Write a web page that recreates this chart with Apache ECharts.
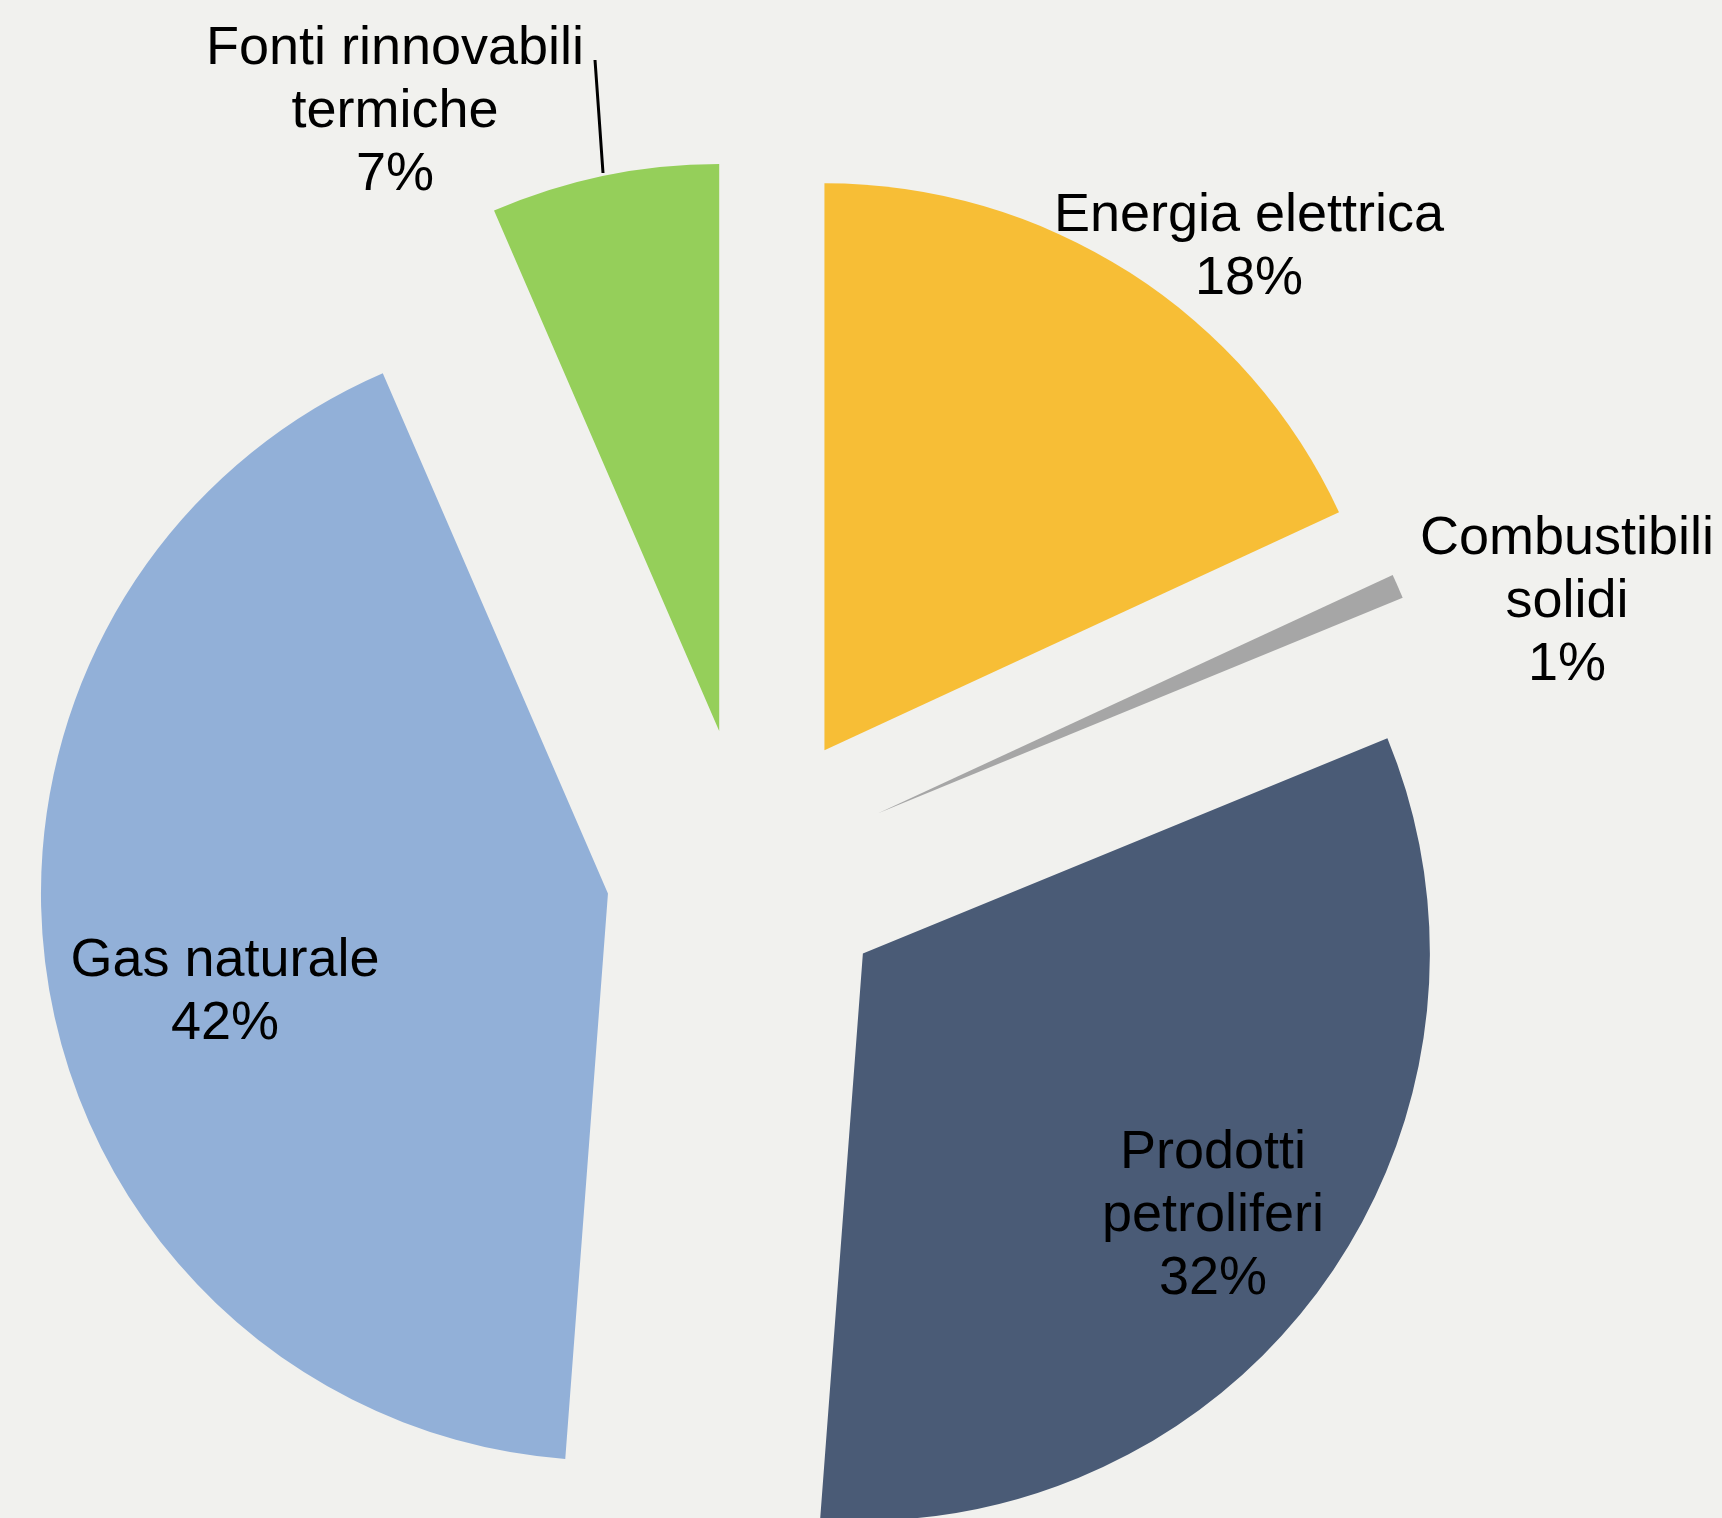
<!DOCTYPE html>
<html>
<head>
<meta charset="utf-8">
<title>Consumi finali per fonte</title>
<script src="https://cdn.jsdelivr.net/npm/echarts@6/dist/echarts.min.js"></script>
<style>
  html, body { margin: 0; padding: 0; background: #f1f1ee; }
  #main { width: 1722px; height: 1518px; }
</style>
</head>
<body>
<div id="main"></div>
<script>
// dati (quota % per fonte), in senso orario dalle ore 12
const categories = ['Energia elettrica', 'Combustibili\nsolidi', 'Prodotti\npetroliferi', 'Gas naturale', 'Fonti rinnovabili\ntermiche'];
const shares = [18.1, 0.7, 32.4, 42.3, 6.5];
const colors = ['#f7be36', '#a6a6a6', '#4a5b76', '#92b0d8', '#95cf5a'];

// posizione delle etichette (centro del blocco di testo), come nel grafico Excel
const labelSpots = [[1249, 248], [1567, 602], [1213, 1216], [225, 993], [395, 112]];

const myChart = echarts.init(document.getElementById('main'));

// fette "esplose"
const sliceData = categories.map((name, i) => ({
  name: name,
  value: shares[i],
  selected: true,
  itemStyle: { color: colors[i] },
  select: { itemStyle: { color: colors[i], borderWidth: 0 } }
}));

// stessa serie, trasparente, solo per le etichette
const labelData = categories.map((name, i) => ({
  name: name,
  value: shares[i],
  itemStyle: { color: 'rgba(0,0,0,0)' },
  label: { position: (i === 1 || i === 4) ? 'outside' : 'inside' },
  labelLine: { show: i === 4 }
}));

const option = {
  backgroundColor: '#f1f1ee',
  animation: false,
  series: [
    {
      type: 'pie',
      center: [748, 870],
      radius: 567,
      startAngle: 90,
      clockwise: true,
      selectedMode: 'multiple',
      selectedOffset: 142,
      emphasis: { disabled: true },
      itemStyle: { borderWidth: 0 },
      label: { show: false },
      labelLine: { show: false },
      data: sliceData
    },
    {
      type: 'pie',
      center: [748, 870],
      radius: 567,
      startAngle: 90,
      clockwise: true,
      silent: true,
      avoidLabelOverlap: false,
      emphasis: { disabled: true },
      itemStyle: { borderWidth: 0 },
      label: {
        show: true,
        color: '#000',
        fontFamily: 'Liberation Sans, Arial, sans-serif',
        fontSize: 54,
        lineHeight: 63,
        align: 'center',
        formatter: (p) => p.name + '\n' + Math.round(p.percent) + '%'
      },
      labelLine: {
        lineStyle: { color: '#000', width: 3 }
      },
      labelLayout: function (params) {
        const p = labelSpots[params.dataIndex];
        const out = { x: p[0], y: p[1], align: 'center', verticalAlign: 'middle' };
        if (params.dataIndex === 4) {
          out.labelLinePoints = [[603, 173], [599, 116], [595, 60]];
        }
        return out;
      },
      data: labelData
    }
  ]
};

option && myChart.setOption(option);
window.addEventListener('resize', () => {
  if (myChart) {
    myChart.resize();
  }
});
</script>
</body>
</html>
